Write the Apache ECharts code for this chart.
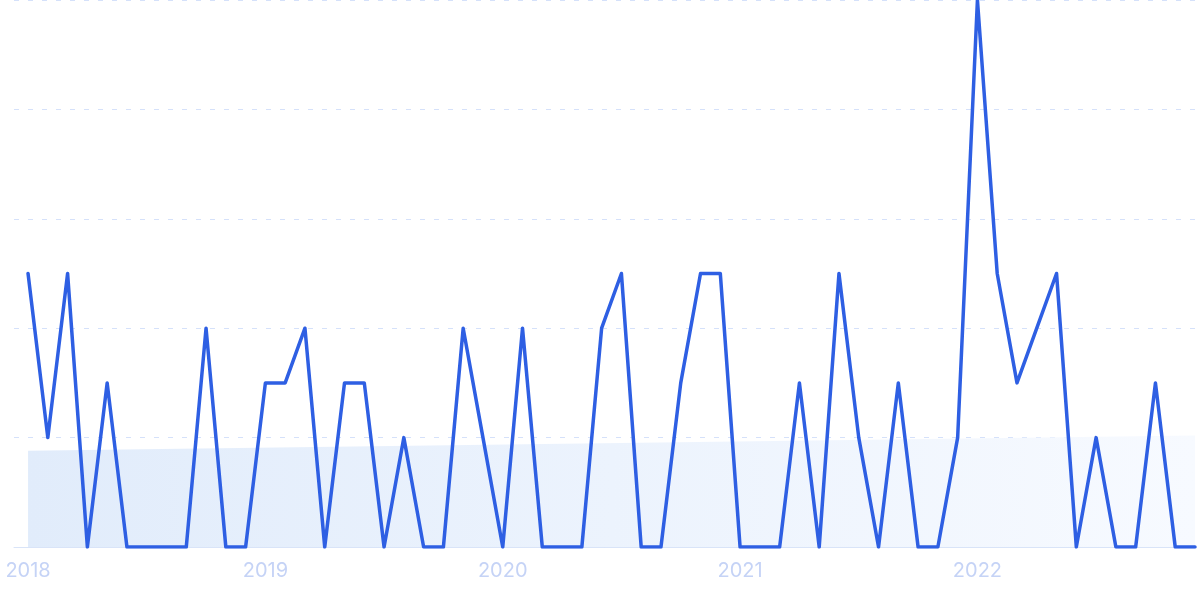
<!DOCTYPE html>
<html>
<head>
<meta charset="utf-8">
<style>
html,body{margin:0;padding:0;background:#fff;}
#c{width:1200px;height:599px;}
</style>
<script src="https://cdn.jsdelivr.net/npm/echarts@6/dist/echarts.min.js"></script>
</head>
<body>
<div id="c"></div>
<script>
// Monthly values, Jan 2018 .. Dec 2022
const values = [
  5, 2, 5, 0, 3, 0, 0, 0, 0, 4, 0, 0,
  3, 3, 4, 0, 3, 3, 0, 2, 0, 0, 4, 2,
  0, 4, 0, 0, 0, 4, 5, 0, 0, 3, 5, 5,
  0, 0, 0, 3, 0, 5, 2, 0, 3, 0, 0, 2,
  10, 5, 3, 4, 5, 0, 2, 0, 0, 3, 0, 0
];
// Trend (start and end estimates)
const trendIdx = [0, 59];
const trendVals = [1.76, 2.04];
// Year tick labels at month indices
const yearTickIdx = [0, 12, 24, 36, 48];
const yearLabels = ['2018', '2019', '2020', '2021', '2022'];

const lineData = values.map((v, i) => [i, v]);
const trendData = trendIdx.map((x, k) => [x, trendVals[k]]);

const chart = echarts.init(document.getElementById('c'), null, {renderer: 'canvas'});
chart.setOption({
  animation: false,
  grid: {left: 14, right: 5, top: 0, bottom: 52, containLabel: false},
  xAxis: {
    type: 'value',
    min: -0.71,
    max: 59,
    axisLine: {show: true, lineStyle: {color: '#d9e4f8', width: 1}},
    axisTick: {show: false},
    splitLine: {show: false},
    axisLabel: {
      customValues: yearTickIdx,
      formatter: function (v) {
        const k = yearTickIdx.indexOf(Math.round(v));
        return k >= 0 ? yearLabels[k] : '';
      },
      color: '#c5d3f6',
      fontSize: 20,
      fontFamily: 'Inter, sans-serif',
      margin: 14,
      showMinLabel: true,
      showMaxLabel: true
    }
  },
  yAxis: {
    type: 'value',
    min: 0,
    max: 10,
    interval: 2,
    axisLine: {show: false},
    axisTick: {show: false},
    axisLabel: {show: false},
    splitLine: {show: true, lineStyle: {color: '#d5e1fa', width: 1, type: [5, 9]}}
  },
  series: [
    {
      type: 'line',
      data: trendData,
      symbol: 'none',
      lineStyle: {width: 0, opacity: 0},
      areaStyle: {
        color: new echarts.graphic.LinearGradient(0, 0, 1, 0, [
          {offset: 0, color: '#e1ecfb'},
          {offset: 1, color: '#f7faff'}
        ]),
        opacity: 1
      },
      z: 1
    },
    {
      type: 'line',
      data: lineData,
      symbol: 'none',
      lineStyle: {color: '#2e5fe3', width: 3.5, join: 'round', cap: 'round'},
      z: 3
    }
  ]
});
</script>
</body>
</html>
